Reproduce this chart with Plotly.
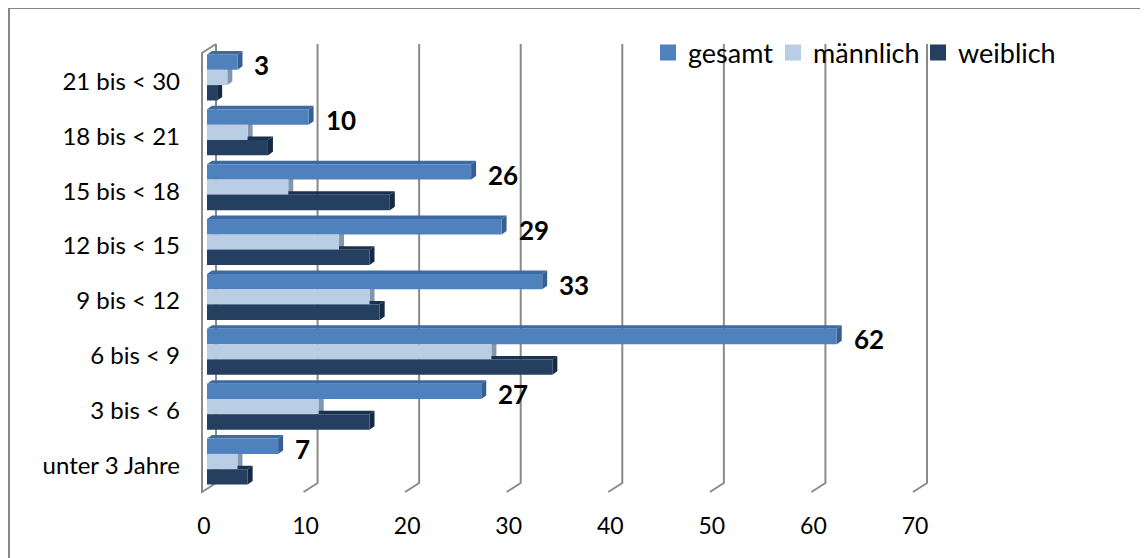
import plotly.graph_objects as go

# ---------------- data ----------------
categories = ["unter 3 Jahre", "3 bis < 6", "6 bis < 9", "9 bis < 12",
              "12 bis < 15", "15 bis < 18", "18 bis < 21", "21 bis < 30"]
gesamt = [7, 27, 62, 33, 29, 26, 10, 3]
maennlich = [3, 11, 28, 16, 13, 8, 4, 2]
weiblich = [4, 16, 34, 17, 16, 18, 6, 1]
x_ticks = [0, 10, 20, 30, 40, 50, 60, 70]
series_names = ["gesamt", "männlich", "weiblich"]

# ---------------- styling ----------------
FONT = "Lato"
face_colors = ["#4F81BD", "#B9CDE5", "#243F60"]
top_colors = ["#3C6AA3", "#A3B6CE", "#1B3150"]
side_colors = ["#375F92", "#8496AD", "#162A44"]
GRID = "#8A8A8A"

# page body has an 8px margin; positions below are window pixels
OFF = 8
W, H = 1148, 558
PLOT_L, PLOT_T = 207, 50          # plot area in window pixels
PW, PH = 711, 439
L, T = PLOT_L - OFF, PLOT_T - OFF
R = W - L - PW
B = H - T - PH
XMAX = 70
YMIN, YMAX = -0.5, len(categories) - 0.5
BW = 0.28
offsets = [0.14, -0.14, -0.42]
legend_text_px = [687, 812, 957]   # where each legend label starts

x_scale = PW / XMAX
y_scale = PH / (YMAX - YMIN)
DX = 5 / x_scale
DY = 3.5 / y_scale


def px_x(px):
    return (px - PLOT_L) / PW


def px_y(py):
    return (PLOT_T + PH - py) / PH


series = [gesamt, maennlich, weiblich]
pos = list(range(len(categories)))

fig = go.Figure()

shapes = []
# back-wall gridlines with perspective floor
for t in x_ticks:
    fx = PLOT_L + t * x_scale - 5
    bx = PLOT_L + t * x_scale + 9
    path = (f"M{px_x(bx)},{px_y(44)} L{px_x(bx)},{px_y(483)} "
            f"L{px_x(fx)},{px_y(492)}")
    if t == 0:
        path += f" L{px_x(fx)},{px_y(53)} L{px_x(bx)},{px_y(44)}"
    shapes.append(dict(type="path", path=path, xref="paper", yref="paper",
                       line=dict(color=GRID, width=2), layer="below"))

# 3D faces of the bars
for s, vals in enumerate(series):
    for i, v in enumerate(vals):
        y0 = pos[i] + offsets[s]
        y1 = y0 + BW
        top = f"M0,{y1} L{v},{y1} L{v + DX},{y1 + DY} L{DX},{y1 + DY} Z"
        side = f"M{v},{y0} L{v},{y1} L{v + DX},{y1 + DY} L{v + DX},{y0 + DY} Z"
        shapes.append(dict(type="path", path=top, xref="x", yref="y",
                           fillcolor=top_colors[s], line=dict(width=0), layer="below"))
        shapes.append(dict(type="path", path=side, xref="x", yref="y",
                           fillcolor=side_colors[s], line=dict(width=0), layer="below"))

# outer border
shapes.append(dict(type="rect", xref="paper", yref="paper",
                   x0=px_x(9), x1=px_x(1160), y0=px_y(570), y1=px_y(8),
                   line=dict(color="#868686", width=2), layer="below"))

for s, vals in enumerate(series):
    fig.add_trace(go.Bar(
        x=vals, y=pos, orientation="h", width=BW, offset=offsets[s],
        marker=dict(color=face_colors[s], line=dict(width=0)),
        name=series_names[s], showlegend=False, hoverinfo="x+name",
    ))

# legend entries, one legend box per entry for exact placement
legend_ids = ["legend", "legend2", "legend3"]
for s, name in enumerate(series_names):
    fig.add_trace(go.Scatter(
        x=[None], y=[None], mode="markers", name=name, legend=legend_ids[s],
        marker=dict(symbol="square", size=16, color=face_colors[s]),
    ))

annotations = []
for i, v in enumerate(gesamt):
    annotations.append(dict(
        x=v, y=pos[i] + offsets[0] + BW / 2, xref="x", yref="y",
        text=str(v), showarrow=False, xanchor="left", yanchor="middle",
        xshift=15, yshift=-3,
        font=dict(family=FONT, size=26, color="#000000", weight="bold"),
    ))

legend_layout = {}
for s, lid in enumerate(legend_ids):
    legend_layout[lid] = dict(
        orientation="h", x=px_x(legend_text_px[s] - 39), y=px_y(53),
        xanchor="left", yanchor="middle", bgcolor="rgba(0,0,0,0)",
        font=dict(family=FONT, size=27, color="#000000"),
        itemclick=False, itemdoubleclick=False)

fig.update_layout(
    width=W, height=H, autosize=False,
    margin=dict(l=L, r=R, t=T, b=B, pad=0),
    paper_bgcolor="white", plot_bgcolor="rgba(0,0,0,0)",
    barmode="overlay",
    shapes=shapes, annotations=annotations,
    font=dict(family=FONT, color="#000000"),
    xaxis=dict(range=[0, XMAX], tickvals=x_ticks, showgrid=False,
               zeroline=False, showline=False, ticks="",
               tickfont=dict(family=FONT, size=23, color="#000000"),
               ticklabelstandoff=21, ticklabelshift=-3, fixedrange=True),
    yaxis=dict(range=[YMIN, YMAX], tickvals=pos, ticktext=categories,
               showgrid=False, zeroline=False, showline=False, ticks="",
               tickfont=dict(family=FONT, size=24, color="#000000"),
               ticklabelstandoff=26, ticklabelshift=4, fixedrange=True),
    **legend_layout,
)

fig.write_html("out.html")
